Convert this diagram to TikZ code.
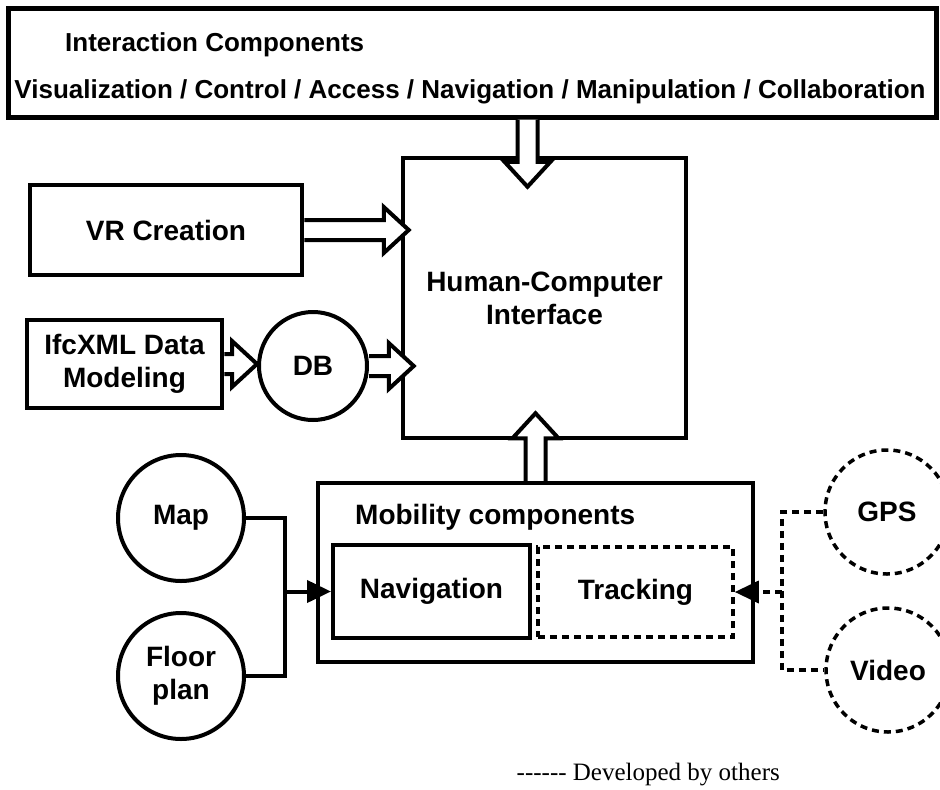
\documentclass[tikz,border=0pt]{standalone}
\usepackage{fontspec}
\setmainfont{Liberation Sans}
\newfontfamily\legfont{Liberation Serif}
\usetikzlibrary{calc,arrows.meta}
\newcommand\lbl{\fontsize{28}{33}\selectfont\bfseries}
\newcommand\toplbl{\fontsize{26}{30}\selectfont\bfseries}
\newcommand\leglbl{\legfont\fontsize{25}{28}\selectfont}
\def\arsw{10pt}\def\arhw{23pt}\def\arhl{25pt}
% hollow block arrows: #1 start, #2 tip
\newcommand\arrR[2]{\draw[hollow] let \p1=#1, \p2=#2 in
  (\x1,\y1-\arsw) -- (\x2-\arhl,\y1-\arsw) -- (\x2-\arhl,\y1-\arhw) -- (\x2,\y1)
  -- (\x2-\arhl,\y1+\arhw) -- (\x2-\arhl,\y1+\arsw) -- (\x1,\y1+\arsw);}
\newcommand\arrD[2]{\draw[hollow] let \p1=#1, \p2=#2 in
  (\x1-\arsw,\y1) -- (\x1-\arsw,\y2+\arhl) -- (\x1-\arhw,\y2+\arhl) -- (\x1,\y2)
  -- (\x1+\arhw,\y2+\arhl) -- (\x1+\arsw,\y2+\arhl) -- (\x1+\arsw,\y1);}
\newcommand\arrU[2]{\draw[hollow] let \p1=#1, \p2=#2 in
  (\x1-\arsw,\y1) -- (\x1-\arsw,\y2-\arhl) -- (\x1-\arhw,\y2-\arhl) -- (\x1,\y2)
  -- (\x1+\arhw,\y2-\arhl) -- (\x1+\arsw,\y2-\arhl) -- (\x1+\arsw,\y1);}
\begin{document}
\begin{tikzpicture}[x=1pt,y=-1pt,
  hollow/.style={draw, line width=4pt, fill=white, line join=miter},
  boxn/.style={draw, line width=4.5pt, rectangle, inner sep=0pt, align=center, font=\lbl},
  circn/.style={draw, line width=4pt, circle, inner sep=0pt, align=center, font=\lbl, minimum size=126pt},
  dsh/.style={line width=3.5pt, dash pattern=on 7pt off 5pt},
  conn/.style={line width=4pt},
  tipf/.style={-{Triangle[length=24pt,width=22pt]}},
  txt/.style={inner sep=0pt, font=\lbl}]
\useasboundingbox (0,0) rectangle (940,790);
% top box
\node[boxn, line width=5pt, minimum width=928pt, minimum height=109pt] (top) at (472,62.5) {};
\node[txt, font=\toplbl, anchor=west] (ictitle) at (65,45) {Interaction Components};
\node[txt, font=\toplbl] (iclist) at (470,92) {Visualization / Control / Access / Navigation / Manipulation / Collaboration};
% HCI
\node[boxn, minimum width=283pt, minimum height=280pt] (hci) at (544.5,298) {Human-Computer\\Interface};
% left boxes
\node[boxn, minimum width=272pt, minimum height=90pt] (vr) at (166,230) {VR Creation};
\node[boxn, minimum width=195pt, minimum height=88pt] (ifc) at (124.5,364) {IfcXML Data\\Modeling};
\node[circn, minimum size=108pt] (db) at (313,366) {DB};
% mobility
\node[boxn, minimum width=435pt, minimum height=179pt] (mob) at (535.5,572.5) {};
\node[txt, anchor=west] (mobt) at (355,517) {Mobility components};
\node[boxn, line width=4pt, minimum width=197pt, minimum height=93pt] (nav) at (431.5,591.5) {Navigation};
\node[boxn, dsh, minimum width=195pt, minimum height=90pt] (trk) at (635.5,592) {Tracking};
% circles
\node[circn] (map) at (181,518) {Map};
\node[circn] (floor) at (181,676) {Floor\\plan};
\node[circn, dsh, minimum size=124pt] (gps) at (887,512) {GPS};
\node[circn, dsh, minimum size=124pt] (video) at (888,670) {Video};
% connectors left
\coordinate (jl) at (285,591.5);
\draw[conn] (map.east) -- (map.east -| jl) -- (jl);
\draw[conn] (floor.east) -- (floor.east -| jl) -- (jl);
\draw[conn, tipf] (jl) -- (nav.west);
% connectors right
\coordinate (jr) at (782,592);
\draw[dsh] (gps.west) -- (gps.west -| jr) -- (video.west -| jr) -- (video.west);
\draw[dsh, tipf] (jr) -- (trk.east);
% hollow arrows
\arrR{(vr.east)}{([xshift=8pt]hci.west |- vr.east)}
\arrR{(ifc.east)}{(db.west)}
\arrR{(db.east)}{([xshift=13pt]hci.west |- db.east)}
\coordinate (ttip) at ([xshift=-17pt,yshift=-31pt]hci.north);
\arrD{(ttip |- top.south)}{(ttip)}
\coordinate (btip) at ([xshift=-9pt,yshift=27pt]hci.south);
\arrU{(btip |- mob.north)}{(btip)}
% legend
\node[inner sep=0pt, font=\leglbl, anchor=east] (leg) at (780,775) {{-}{-}{-}{-}{-}{-} Developed by others};
\end{tikzpicture}
\end{document}
